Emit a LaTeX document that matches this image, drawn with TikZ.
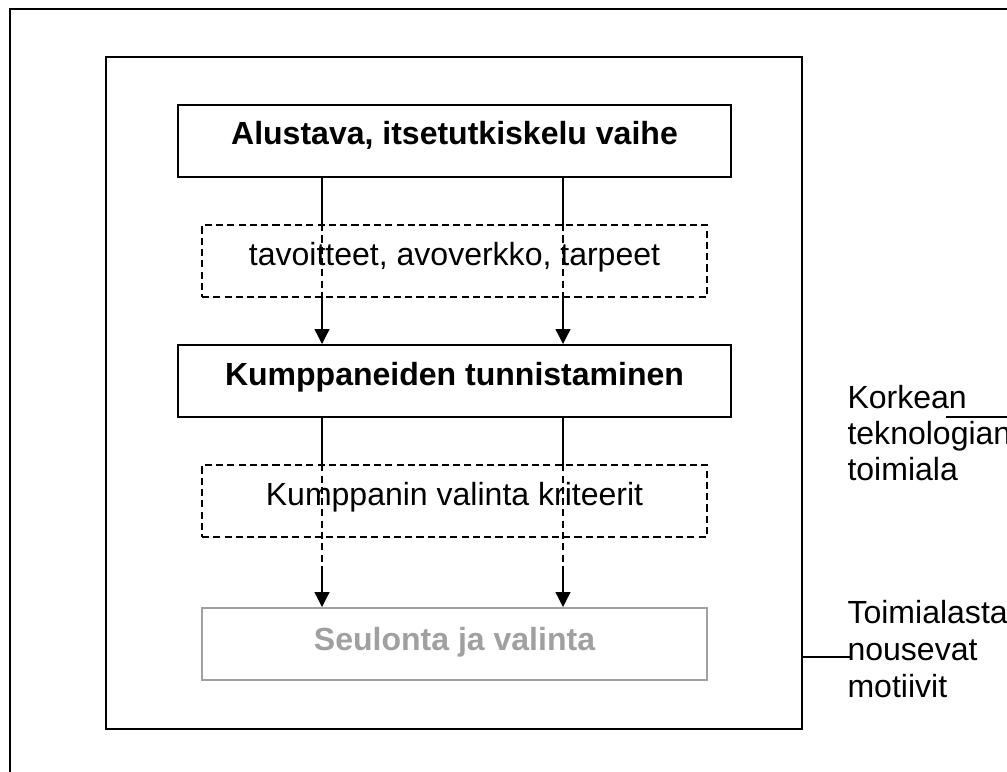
\documentclass[tikz,border=0pt]{standalone}
\usepackage{fontspec}
\setmainfont{Liberation Sans}
\usetikzlibrary{arrows.meta,fit}
\definecolor{fadedgrey}{RGB}{160,160,160}
\begin{document}
\begin{tikzpicture}[x=0.381pt,y=-0.381pt,
  frameline/.style={line width=0.76pt},
  stagebox/.style={draw, line width=0.76pt, inner sep=0pt},
  notebox/.style={draw, line width=0.6pt, dash pattern=on 2.7pt off 1.6pt, inner sep=0pt},
  greybox/.style={draw=fadedgrey, line width=0.76pt, inner sep=0pt},
  link/.style={line width=0.5pt},
  dashlink/.style={line width=0.5pt, dash pattern=on 2.7pt off 1.6pt},
  arrowlink/.style={line width=0.5pt, -{Triangle[length=5.7pt,width=5.7pt]}},
  boldtext/.style={anchor=base, inner sep=0pt, font=\fontsize{12.2}{14}\selectfont\bfseries},
  plaintext/.style={anchor=base, inner sep=0pt, font=\fontsize{12.2}{14}\selectfont},
  sidetext/.style={anchor=base west, inner sep=0pt, font=\fontsize{12.2}{14}\selectfont}
]
\useasboundingbox (0,0) rectangle (1007,772);
\clip (0,0) rectangle (1007,772);

% outer frame, running past the page on the right and at the bottom
\draw[frameline] (10,800) -- (10,9) -- (1040,9);

% inner frame around the process
\node[stagebox, fit={(106,57) (802,729)}] (frame) {};

% process stages and notes
\node[stagebox, fit={(178,105) (731,177)}] (s1) {};
\node[boldtext] (s1t) at (454.5,145) {Alustava, itsetutkiskelu vaihe};

\node[notebox, fit={(202,225) (707,297)}] (n1) {};
\node[plaintext] (n1t) at (454.5,265) {tavoitteet, avoverkko, tarpeet};

\node[stagebox, fit={(178,345) (731,417)}] (s2) {};
\node[boldtext] (s2t) at (454.5,385) {Kumppaneiden tunnistaminen};

\node[notebox, fit={(202,465) (707,537)}] (n2) {};
\node[plaintext] (n2t) at (454.5,505) {Kumppanin valinta kriteerit};

\node[greybox, fit={(202,608) (707,680)}] (s3) {};
\node[boldtext, text=fadedgrey] (s3t) at (454.5,650) {Seulonta ja valinta};

% connector columns
\coordinate (cl) at (322,0);
\coordinate (cr) at (563,0);
\coordinate (m2) at (0,566);

\foreach \c in {cl,cr}{
  \draw[link] (s1.south -| \c) -- (n1.north -| \c);
  \draw[dashlink] (n1.north -| \c) -- (n1.south -| \c);
  \draw[arrowlink] (n1.south -| \c) -- (s2.north -| \c);
  \draw[link] (s2.south -| \c) -- (n2.north -| \c);
  \draw[dashlink] (n2.north -| \c) -- (m2 -| \c);
  \draw[arrowlink] (m2 -| \c) -- (s3.north -| \c);
}

% side labels
\node[sidetext] (k1) at (847,408) {Korkean};
\node[sidetext] (k2) at (847,444) {teknologian};
\node[sidetext] (k3) at (847,480) {toimiala};
\coordinate (ka) at (946,417);
\coordinate (kb) at (1040,417);
\draw[link] (ka) -- (kb);

\node[sidetext] (t1) at (847,623) {Toimialasta};
\node[sidetext] (t2) at (847,660) {nousevat};
\node[sidetext] (t3) at (847,697) {motiivit};
\coordinate (tb) at (850,657);
\draw[link] (frame.east |- tb) -- (tb);
\end{tikzpicture}
\end{document}
